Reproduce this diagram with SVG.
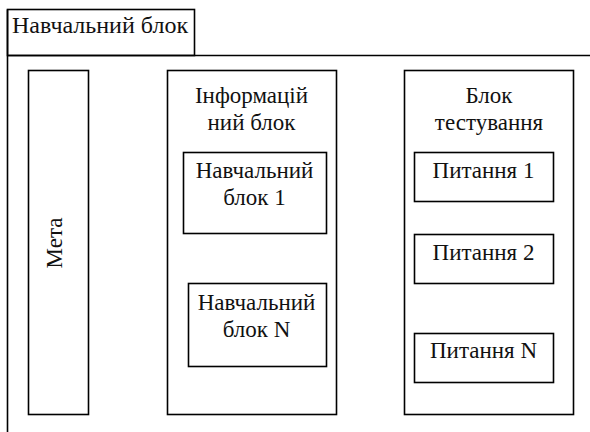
<svg xmlns="http://www.w3.org/2000/svg" width="590" height="432" viewBox="0 0 590 432">
  <style>
    .box { fill: #ffffff; stroke: #000000; stroke-width: 1.6; }
    .edge { fill: none; stroke: #000000; stroke-width: 1.6; }
    text { font-family: 'Liberation Serif', 'Times New Roman', serif; font-size: 23px; fill: #111111; }
    .lbl { text-anchor: middle; }
    .tab { font-size: 24px; }
  </style>
  <rect width="590" height="432" fill="#ffffff"/>

  <!-- outer frame: tab plus top and left rules -->
  <g id="frame">
    <rect class="box" x="7.5" y="9.5" width="187" height="46"/>
    <path class="edge" d="M7.5 55.5 H590 M7.5 9.5 V432"/>
    <text class="tab" x="12" y="33">Навчальний блок</text>
  </g>

  <g id="connectors"></g>

  <g id="goal">
    <rect class="box" x="28.5" y="70.5" width="60" height="344"/>
    <text class="lbl" transform="translate(62 243) rotate(-90)">Мета</text>
  </g>

  <g id="info">
    <rect class="box" x="167.5" y="70.5" width="169" height="344"/>
    <text class="lbl" x="251.5" y="103">Інформацій</text>
    <text class="lbl" x="251.5" y="130">ний блок</text>
  </g>

  <g id="lesson1">
    <rect class="box" x="183.5" y="152.5" width="143" height="81"/>
    <text class="lbl" x="254.5" y="178">Навчальний</text>
    <text class="lbl" x="254.5" y="205">блок 1</text>
  </g>

  <g id="lessonN">
    <rect class="box" x="188.5" y="283.5" width="138" height="83"/>
    <text class="lbl" x="256.5" y="310">Навчальний</text>
    <text class="lbl" x="256.5" y="337">блок N</text>
  </g>

  <g id="testing">
    <rect class="box" x="404.5" y="70.5" width="169" height="344"/>
    <text class="lbl" x="489" y="103">Блок</text>
    <text class="lbl" x="489" y="130">тестування</text>
  </g>

  <g id="q1">
    <rect class="box" x="414.5" y="152.5" width="139" height="49"/>
    <text class="lbl" x="483.5" y="178">Питання 1</text>
  </g>

  <g id="q2">
    <rect class="box" x="414.5" y="234.5" width="139" height="49"/>
    <text class="lbl" x="483.5" y="260">Питання 2</text>
  </g>

  <g id="qN">
    <rect class="box" x="414.5" y="333.5" width="139" height="49"/>
    <text class="lbl" x="483.5" y="358">Питання N</text>
  </g>
</svg>
